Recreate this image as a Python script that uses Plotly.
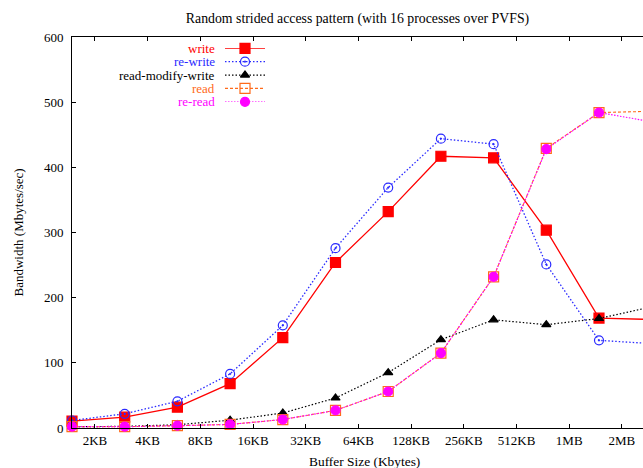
import plotly.graph_objects as go

# ---- data ----
positions = list(range(12))  # buffer-size sample index
tick_labels = ["2KB", "4KB", "8KB", "16KB", "32KB", "64KB", "128KB", "256KB", "512KB", "1MB", "2MB"]
tick_offset = 0.435

write = [10.5, 16.6, 32, 68, 138.6, 254, 332, 417, 414.6, 303.5, 168.7, 166.5]
re_write = [11.5, 21.8, 41, 83, 157.5, 276, 369, 444, 435.6, 251, 134.5, 129.5]
rmw = [2, 2.5, 5, 12, 23, 46, 85, 135.5, 166, 158.5, 168, 186]
read = [2, 2, 3.5, 5.5, 13, 27, 56, 115, 232, 429, 484, 486]
re_read = [2, 2, 3.5, 5.5, 13, 27, 56, 115, 232, 428, 484, 470]

series = [
    ("write", write, "#ff0000", "solid", "square", 10, 1.3),
    ("re-write", re_write, "#2a2aff", "1.5px,2px", "circle-open-dot", 9, 1.3),
    ("read-modify-write", rmw, "#000000", "1.5px,2px", "triangle-up", 8, 1.2),
    ("read", read, "#ff6a1a", "3px,2px", "square-open", 10, 1.1),
    ("re-read", re_read, "#ff00ff", "1.5px,1.5px", "circle", 9, 1.2),
]

W, H = 643, 468
L, T, B = 72, 37, 40
plot_w = W - L
px_per_idx = 52.7
x_max = plot_w / px_per_idx

FONT = "Liberation Serif, Times New Roman, serif"

fig = go.Figure()
for name, vals, color, dash, sym, size, lw in series:
    fig.add_trace(go.Scatter(
        x=positions, y=vals, mode="lines+markers", name=name,
        line=dict(color=color, dash=dash, width=lw),
        marker=dict(symbol=sym, size=size, color=color,
                    line=dict(color=color, width=1.2)),
        cliponaxis=False, showlegend=False,
    ))

# ---- custom gnuplot-style key (inset axes) ----
n = len(series)
annotations = []
for i, (name, vals, color, dash, sym, size, lw) in enumerate(series):
    row = n - 1 - i
    fig.add_trace(go.Scatter(
        x=[0, 1], y=[row, row], mode="lines", xaxis="x2", yaxis="y2",
        line=dict(color=color, dash=dash, width=lw), showlegend=False,
        hoverinfo="skip", cliponaxis=False,
    ))
    fig.add_trace(go.Scatter(
        x=[0.5], y=[row], mode="markers", xaxis="x2", yaxis="y2",
        marker=dict(symbol=sym, size=size, color=color,
                    line=dict(color=color, width=1.2)),
        showlegend=False, hoverinfo="skip", cliponaxis=False,
    ))
    annotations.append(dict(
        text=name, xref="paper", x=(216 - L) / plot_w, xanchor="right",
        yref="y2", y=row, yanchor="middle", showarrow=False, borderpad=0,
        font=dict(family=FONT, size=13, color=color),
    ))

# axis titles
annotations.append(dict(
    text="Buffer Size (Kbytes)", xref="paper", x=(364 - L) / plot_w,
    yref="paper", y=(427.5 - 461) / 390.5, xanchor="center", yanchor="middle",
    showarrow=False, font=dict(family=FONT, size=13.4, color="#000"),
))
annotations.append(dict(
    text="Bandwidth (Mbytes/sec)", xref="paper", x=(18 - L) / plot_w,
    yref="paper", y=0.5, xanchor="center", yanchor="middle", textangle=-90,
    showarrow=False, font=dict(family=FONT, size=13, color="#000"),
))

fig.update_layout(
    width=W, height=H,
    margin=dict(l=L, r=0, t=T, b=B),
    paper_bgcolor="white", plot_bgcolor="white",
    font=dict(family=FONT, size=13, color="#000"),
    title=dict(text="Random strided access pattern (with 16 processes over PVFS)",
               x=357.5 / W, xanchor="center", y=1 - 18.5 / H, yanchor="middle",
               font=dict(family=FONT, size=13.8, color="#000")),
    xaxis=dict(
        range=[0, x_max], tickmode="array",
        tickvals=[i + tick_offset for i in range(len(tick_labels))],
        ticktext=tick_labels, ticks="inside", ticklen=4, tickcolor="#000",
        showline=True, linecolor="#000", linewidth=1, mirror="ticks",
        showgrid=False, zeroline=False,
        tickfont=dict(family=FONT, size=13),
    ),
    yaxis=dict(
        range=[0, 600], tickmode="array", tickvals=[0, 100, 200, 300, 400, 500, 600],
        ticks="inside", ticklen=4, tickcolor="#000",
        showline=True, linecolor="#000", linewidth=1, mirror=False,
        showgrid=False, zeroline=True, zerolinecolor="#444", zerolinewidth=2,
        tickfont=dict(family=FONT, size=13), ticklabelstandoff=5,
    ),
    xaxis2=dict(domain=[(225 - L) / plot_w, (265 - L) / plot_w], range=[0, 1],
                visible=False, fixedrange=True, anchor="y2"),
    yaxis2=dict(domain=[(427.5 - 101.7) / 390.5, (427.5 - 48.3) / 390.5],
                range=[0, n - 1], visible=False, fixedrange=True, anchor="x2"),
    annotations=annotations,
    showlegend=False,
)

fig.write_html("out.html", config={"displayModeBar": False},
               post_script="document.body.style.margin='0';document.body.style.overflow='hidden';")
